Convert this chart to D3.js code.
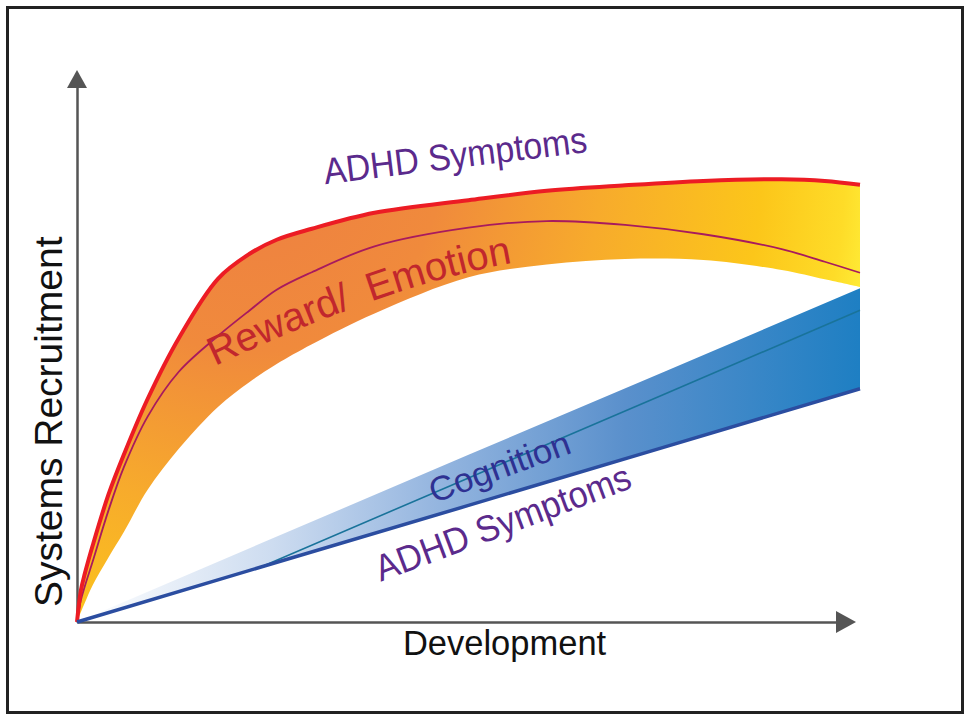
<!DOCTYPE html>
<html>
<head>
    <meta charset="utf-8">
    <title>Systems Recruitment</title>
    <script src="https://cdn.jsdelivr.net/npm/d3@7"></script>
    <style>
        body { margin: 0; background: #fff; }
        text { font-family: "Liberation Sans", Arial, Helvetica, sans-serif; }
    </style>
</head>

<body>
    <script>
        // development (0-100) along x, recruitment (0-100) along y
        var rewardX    = [0, 0.5, 1, 2, 4, 6, 9, 13, 18, 22, 25.5, 30, 38, 50, 60, 70, 80, 90, 95.5, 100];
        var rewardHigh = [0, 5.8, 8.8, 13.9, 23.1, 30.5, 40.5, 51.6, 62.4, 66.9, 69.5, 71.5, 74.4, 76.7, 78.4, 79.4, 80.2, 80.5, 80.2, 79.5];
        var rewardMid  = [0, 4.0, 6.5, 11.0, 20.2, 28.2, 37.3, 45.5, 52.0, 56.6, 60.4, 63.6, 68.3, 71.7, 72.9, 72.2, 70.5, 67.8, 65.5, 63.5];
        var rewardLow  = [0, 1.8, 3.5, 6.7, 11.7, 16.4, 24.0, 31.5, 39.1, 43.6, 46.9, 50.5, 56.1, 62.7, 65.0, 66.0, 65.8, 64.0, 62.3, 60.9];

        var cogX    = [0, 23.5, 50, 75, 100];
        var cogHigh = [0, 14.3, 30.4, 45.5, 60.7];
        var cogMid  = [0, 10.0, 26.2, 41.4, 56.7];
        var cogLow  = [0, 10.0, 21.2, 31.8, 42.4];

        var axisLabels = ["Development", "Systems Recruitment"];
        var bandLabels = ["ADHD Symptoms", "Reward/ Emotion", "Cognition", "ADHD Symptoms"];

        var width = 970;
        var height = 722;

        var xScale = d3.scaleLinear()
                    .domain([0, 100])
                    .range([77, 860]);

        var yScale = d3.scaleLinear()
                    .domain([0, 100])
                    .range([622, 72]);

        var svg = d3.select("body").append("svg")
            .attr("width", width)
            .attr("height", height);

        var defs = svg.append("defs");

        var warm = defs.append("radialGradient")
            .attr("id", "warm")
            .attr("gradientUnits", "userSpaceOnUse")
            .attr("cx", 250).attr("cy", 160).attr("r", 640);
        [["0", "#ee7f42"], ["0.3", "#f08a3c"], ["0.55", "#f7ab2c"], ["0.8", "#fcc61a"], ["0.93", "#fedc28"], ["1", "#fff43e"]]
            .forEach(function(s) { warm.append("stop").attr("offset", s[0]).attr("stop-color", s[1]); });

        var cool = defs.append("linearGradient")
            .attr("id", "cool")
            .attr("gradientUnits", "userSpaceOnUse")
            .attr("x1", xScale(0)).attr("y1", 0)
            .attr("x2", xScale(100)).attr("y2", 0);
        [["0", "#ffffff"], ["0.25", "#cddcf0"], ["0.45", "#97b7e0"], ["0.7", "#5a90cc"], ["1", "#1e7fc3"]]
            .forEach(function(s) { cool.append("stop").attr("offset", s[0]).attr("stop-color", s[1]); });

        // frame
        svg.append("rect")
            .attr("x", 7.5).attr("y", 7.5)
            .attr("width", 955).attr("height", 705)
            .attr("fill", "none")
            .attr("stroke", "#222")
            .attr("stroke-width", 3);

        // axes: bare domain lines with arrowheads
        svg.append("g")
            .attr("transform", "translate(0," + yScale(0) + ")")
            .call(d3.axisBottom(xScale.copy().range([xScale(0), xScale(100) - 20])).tickValues([]).tickSizeOuter(0))
            .select(".domain").attr("stroke", "#555").attr("stroke-width", 2.5);

        svg.append("g")
            .attr("transform", "translate(" + xScale(0) + ",0)")
            .call(d3.axisLeft(yScale.copy().range([yScale(0), yScale(100) + 15])).tickValues([]).tickSizeOuter(0))
            .select(".domain").attr("stroke", "#555").attr("stroke-width", 2.5);

        var ax = xScale(100) - 4, ay = yScale(0);
        svg.append("path")
            .attr("d", "M" + ax + "," + ay + "L" + (ax - 20) + "," + (ay - 11) + "L" + (ax - 20) + "," + (ay + 11) + "Z")
            .attr("fill", "#555");
        var bx = xScale(0), by = yScale(100) - 2;
        svg.append("path")
            .attr("d", "M" + bx + "," + by + "L" + (bx - 10) + "," + (by + 18) + "L" + (bx + 10) + "," + (by + 18) + "Z")
            .attr("fill", "#555");

        // bands
        var smooth = d3.curveCatmullRom.alpha(0.5);
        function band(xs, lo, hi) {
            return d3.area()
                .x(function(d, i) { return xScale(xs[i]); })
                .y0(function(d, i) { return yScale(lo[i]); })
                .y1(function(d, i) { return yScale(hi[i]); })
                .curve(smooth)(xs);
        }
        function curve(xs, ys, c) {
            return d3.line()
                .x(function(d, i) { return xScale(xs[i]); })
                .y(function(d, i) { return yScale(ys[i]); })
                .curve(c)(xs);
        }

        svg.append("path").attr("d", band(rewardX, rewardLow, rewardHigh)).attr("fill", "url(#warm)");
        svg.append("path").attr("d", d3.area()
                .x(function(d, i) { return xScale(cogX[i]); })
                .y0(function(d, i) { return yScale(cogLow[i]); })
                .y1(function(d, i) { return yScale(cogHigh[i]); })(cogX))
            .attr("fill", "url(#cool)");

        svg.append("path").attr("d", curve(rewardX, rewardMid, smooth))
            .attr("fill", "none").attr("stroke", "#a81a5e").attr("stroke-width", 1.8);
        svg.append("path").attr("d", curve(rewardX, rewardHigh, smooth))
            .attr("fill", "none").attr("stroke", "#ec1c24").attr("stroke-width", 4);
        svg.append("path").attr("d", curve(cogX, cogMid, d3.curveLinear))
            .attr("fill", "none").attr("stroke", "#19739a").attr("stroke-width", 1.6);
        svg.append("path").attr("d", curve(cogX, cogLow, d3.curveLinear))
            .attr("fill", "none").attr("stroke", "#2b4da0").attr("stroke-width", 3.5);

        // axis titles
        svg.append("text")
            .attr("x", xScale(54.6)).attr("y", yScale(0) + 33)
            .attr("text-anchor", "middle")
            .attr("font-size", 34.5)
            .attr("fill", "#111")
            .text(axisLabels[0]);

        svg.append("text")
            .attr("transform", "translate(62," + yScale(36.4) + ") rotate(-90)")
            .attr("text-anchor", "middle")
            .attr("font-size", 39)
            .attr("fill", "#111")
            .text(axisLabels[1]);

        // band labels
        svg.append("text")
            .attr("transform", "translate(" + xScale(31.7) + "," + yScale(79.6) + ") rotate(-7)")
            .attr("font-size", 37)
            .attr("textLength", 265).attr("lengthAdjust", "spacingAndGlyphs")
            .attr("fill", "#5b2a8c")
            .text(bandLabels[0]);

        defs.append("path")
            .attr("id", "rewardPath")
            .attr("d", "M" + xScale(17.6) + "," + yScale(46.5) +
                       " Q" + xScale(40.7) + "," + yScale(61.9) +
                       " " + xScale(56.6) + "," + yScale(65.5));
        svg.append("text")
            .attr("font-size", 40)
            .attr("fill", "#c1272d")
            .attr("word-spacing", 9)
            .append("textPath")
            .attr("href", "#rewardPath")
            .text(bandLabels[1]);

        svg.append("text")
            .attr("transform", "translate(" + xScale(45.6) + "," + yScale(21.6) + ") rotate(-20)")
            .attr("font-size", 34)
            .attr("textLength", 148).attr("lengthAdjust", "spacingAndGlyphs")
            .attr("fill", "#2e3192")
            .text(bandLabels[2]);

        svg.append("text")
            .attr("transform", "translate(" + xScale(38.8) + "," + yScale(7.3) + ") rotate(-20.5)")
            .attr("font-size", 37)
            .attr("textLength", 270).attr("lengthAdjust", "spacingAndGlyphs")
            .attr("fill", "#5b2a8c")
            .text(bandLabels[3]);
    </script>
</body>
</html>
